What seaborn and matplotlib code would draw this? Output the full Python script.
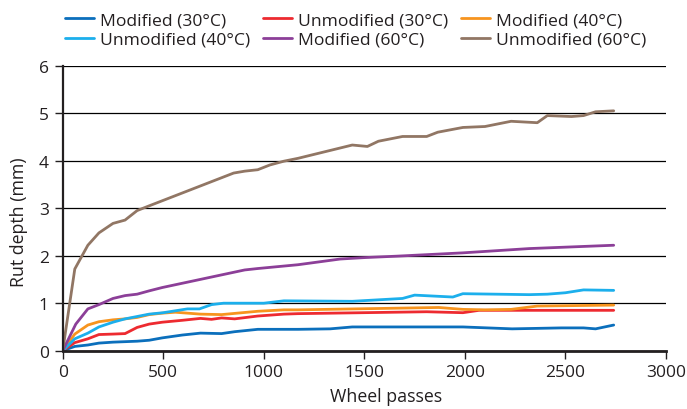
import pandas as pd
import matplotlib
matplotlib.use("Agg")
import matplotlib.pyplot as plt
import seaborn as sns

# Datos (pasadas de rueda vs profundidad de ahuellamiento)
mod30_x = [0, 60, 125, 180, 250, 310, 370, 430, 495, 595, 685, 790, 855, 970, 1170, 1330, 1440, 1990, 2235, 2480, 2590, 2650, 2740]
mod30_y = [0, 0.09, 0.12, 0.16, 0.18, 0.19, 0.20, 0.22, 0.27, 0.33, 0.37, 0.36, 0.40, 0.45, 0.45, 0.46, 0.50, 0.50, 0.46, 0.48, 0.48, 0.46, 0.54]

unmod30_x = [0, 60, 125, 180, 250, 310, 370, 430, 495, 595, 685, 740, 790, 855, 970, 1100, 1170, 1810, 1990, 2070, 2740]
unmod30_y = [0, 0.17, 0.25, 0.34, 0.35, 0.36, 0.49, 0.56, 0.60, 0.64, 0.68, 0.66, 0.69, 0.67, 0.73, 0.77, 0.78, 0.82, 0.80, 0.85, 0.85]

mod40_x = [0, 60, 125, 180, 250, 310, 370, 430, 495, 560, 685, 790, 970, 1100, 1170, 1870, 1990, 2100, 2230, 2360, 2740]
mod40_y = [0, 0.35, 0.54, 0.61, 0.65, 0.67, 0.70, 0.76, 0.79, 0.81, 0.77, 0.76, 0.83, 0.86, 0.86, 0.91, 0.87, 0.86, 0.87, 0.94, 0.96]

unmod40_x = [0, 60, 125, 180, 250, 310, 370, 430, 500, 560, 620, 680, 740, 800, 1000, 1100, 1440, 1690, 1750, 1940, 1990, 2320, 2410, 2500, 2590, 2740]
unmod40_y = [0, 0.25, 0.37, 0.50, 0.60, 0.67, 0.72, 0.77, 0.80, 0.84, 0.88, 0.88, 0.97, 1.00, 1.00, 1.05, 1.04, 1.10, 1.17, 1.13, 1.20, 1.18, 1.19, 1.22, 1.28, 1.27]

mod60_x = [0, 65, 125, 180, 250, 310, 370, 430, 495, 905, 970, 1170, 1380, 1500, 1660, 1990, 2320, 2740]
mod60_y = [0, 0.56, 0.88, 0.97, 1.10, 1.16, 1.19, 1.26, 1.33, 1.70, 1.73, 1.81, 1.93, 1.96, 1.99, 2.06, 2.15, 2.22]

unmod60_x = [0, 60, 125, 180, 250, 310, 370, 430, 850, 905, 970, 1030, 1100, 1170, 1440, 1515, 1570, 1690, 1810, 1865, 1990, 2100, 2230, 2360, 2410, 2530, 2590, 2650, 2740]
unmod60_y = [0, 1.72, 2.22, 2.48, 2.68, 2.75, 2.95, 3.05, 3.74, 3.78, 3.81, 3.91, 3.99, 4.05, 4.33, 4.30, 4.41, 4.51, 4.51, 4.60, 4.70, 4.72, 4.83, 4.80, 4.95, 4.93, 4.95, 5.03, 5.05]

series = [
    ("Modified (30°C)", mod30_x, mod30_y),
    ("Unmodified (30°C)", unmod30_x, unmod30_y),
    ("Modified (40°C)", mod40_x, mod40_y),
    ("Unmodified (40°C)", unmod40_x, unmod40_y),
    ("Modified (60°C)", mod60_x, mod60_y),
    ("Unmodified (60°C)", unmod60_x, unmod60_y),
]
colores = ["#0b6fbc", "#ed2a30", "#f7941e", "#1cafec", "#8c3f98", "#917664"]

filas = []
for nombre, xs, ys in series:
    for x, y in zip(xs, ys):
        filas.append({"serie": nombre, "passes": x, "rut": y})
df = pd.DataFrame(filas)

sns.set_style("white")
plt.rcParams['font.family'] = ['Open Sans', 'DejaVu Sans']
texto = "#231f20"

fig = plt.figure(figsize=(6.87, 4.10), dpi=100)
ax = fig.add_axes([0.0913, 0.1422, 0.8781, 0.6951])

sns.lineplot(data=df, x="passes", y="rut", hue="serie", palette=colores,
             hue_order=[s[0] for s in series], linewidth=2, sort=False,
             estimator=None, ax=ax)

ax.set_xlim(0, 3000)
ax.set_ylim(0, 6)
ax.set_xticks(range(0, 3001, 500))
ax.set_yticks(range(0, 7))
ax.yaxis.grid(True, color="black", linewidth=0.9)
ax.set_axisbelow(True)
for s in ["top", "right"]:
    ax.spines[s].set_visible(False)
ax.spines["left"].set_color(texto)
ax.spines["left"].set_linewidth(1.6)
ax.spines["bottom"].set_color(texto)
ax.spines["bottom"].set_linewidth(2)
ax.tick_params(axis="both", direction="out", length=6, width=1, color=texto,
               labelsize=12.5, labelcolor=texto, bottom=True, left=True)
ax.tick_params(axis="y", pad=4)
ax.set_xlabel("Wheel passes", fontsize=12.8, color=texto, labelpad=5)
ax.set_ylabel("Rut depth (mm)", fontsize=12.8, color=texto, labelpad=8)
ax.xaxis.label.set_x(0.536)
ax.yaxis.label.set_y(0.455)

# Orden de la leyenda por filas (matplotlib llena por columnas)
handles, labels = ax.get_legend_handles_labels()
orden = [0, 3, 1, 4, 2, 5]
ax.legend([handles[i] for i in orden], [labels[i] for i in orden], ncol=3,
          loc="upper left", bbox_to_anchor=(0.082, 0.99), bbox_transform=fig.transFigure,
          frameon=False, fontsize=12.6, handlelength=1.65, handletextpad=0.34,
          columnspacing=0.75, labelspacing=0.2, borderpad=0, labelcolor=texto)

fig.savefig("out.png", dpi=100)
